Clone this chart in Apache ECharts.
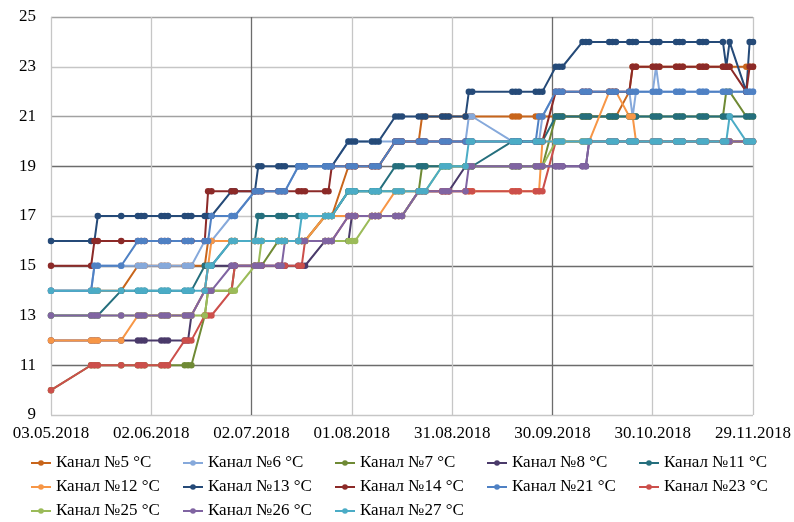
<!DOCTYPE html>
<html>
<head>
<meta charset="utf-8">
<script src="https://cdn.jsdelivr.net/npm/echarts@6/dist/echarts.min.js"></script>
<style>
  html, body { margin: 0; padding: 0; background: #fff; }
  #chart { width: 794px; height: 522px; }
</style>
</head>
<body>
<div id="chart"></div>
<script>
// Measurement days, counted from 03.05.2018, grouped by survey week
const days = [
  [0], [12,13,14], [21], [26,27,28], [33,34,35], [40,41,42], [46,47,48], [54,55],
  [61,62,63], [68,69,70], [74,75,76], [82,83,84], [89,90,91], [96,97,98],
  [103,104,105], [110,111,112], [117,118,119], [124,125,126], [138,139,140],
  [145,146,147], [151,152,153], [159,160,161], [167,168,169], [173,174,175],
  [180,181,182], [187,188,189], [194,195,196], [201,202,203], [208,209,210]
].flat();

const xTickLabels = ['03.05.2018','02.06.2018','02.07.2018','01.08.2018',
                     '31.08.2018','30.09.2018','30.10.2018','29.11.2018'];
const yTicks = [9, 11, 13, 15, 17, 19, 21, 23, 25];

// Temperature readings per channel, °C (same grouping as days)
const ch5 = [
  [14],[14,14,14],[14],[15,15,15],[15,15,15],[15,15,15],[15,16,16],[16,16],
  [16,16,16],[16,16,16],[16,16,16],[17,17,17],[19,19,19],[19,19,19],
  [20,20,20],[20,21,21],[21,21,21],[21,21,21],[21,21,21],
  [21,21,21],[21,21,21],[21,21,21],[21,21,21],[22,23,23],
  [23,23,23],[23,23,23],[23,23,23],[23,23,23],[23,23,23]].flat();
const ch6 = [
  [14],[14,15,15],[15],[15,15,15],[15,15,15],[15,15,15],[16,16,16],[17,17],
  [18,18,18],[18,18,18],[19,19,19],[19,19,19],[20,20,20],[20,20,20],
  [20,20,20],[20,20,20],[20,20,20],[20,21,21],[20,20,20],
  [20,20,21],[22,22,22],[22,22,22],[22,22,22],[22,21,22],
  [22,23,22],[22,22,22],[22,22,22],[22,22,22],[22,22,22]].flat();
const ch7 = [
  [10],[11,11,11],[11],[11,11,11],[11,11,11],[11,11,11],[13,14,14],[14,15],
  [15,15,15],[16,16,16],[16,16,16],[17,17,17],[18,18,18],[18,18,18],
  [18,18,18],[18,19,19],[19,19,19],[19,19,19],[19,19,19],
  [19,19,19],[21,21,21],[21,21,21],[21,21,21],[21,21,21],
  [21,21,21],[21,21,21],[21,21,21],[21,22,22],[21,21,21]].flat();
const ch8 = [
  [12],[12,12,12],[12],[12,12,12],[12,12,12],[12,12,13],[14,15,15],[15,15],
  [15,15,15],[15,15,15],[15,15,15],[16,16,16],[16,17,17],[17,17,17],
  [17,17,17],[18,18,18],[18,18,18],[19,19,19],[19,19,19],
  [19,19,19],[19,19,19],[19,19,20],[20,20,20],[20,20,20],
  [20,20,20],[20,20,20],[20,20,20],[20,20,20],[20,20,20]].flat();
const ch11 = [
  [13],[13,13,13],[14],[14,14,14],[14,14,14],[14,14,14],[15,15,15],[16,16],
  [16,17,17],[17,17,17],[17,17,17],[17,17,17],[18,18,18],[18,18,18],
  [19,19,19],[19,19,19],[19,19,19],[19,19,19],[20,20,20],
  [20,20,20],[21,21,21],[21,21,21],[21,21,21],[21,21,21],
  [21,21,21],[21,21,21],[21,21,21],[21,21,21],[21,21,21]].flat();
const ch12 = [
  [12],[12,12,12],[12],[13,13,13],[13,13,13],[13,13,13],[14,15,16],[16,16],
  [16,16,16],[16,16,16],[16,16,16],[17,17,17],[17,17,17],[17,17,17],
  [18,18,18],[18,18,18],[18,18,18],[18,18,18],[18,18,18],
  [18,18,20],[20,20,20],[20,20,20],[22,22,22],[21,21,20],
  [20,20,20],[20,20,20],[20,20,20],[20,20,20],[20,20,20]].flat();
const ch13 = [
  [16],[16,16,17],[17],[17,17,17],[17,17,17],[17,17,17],[17,17,17],[18,18],
  [18,19,19],[19,19,19],[19,19,19],[19,19,19],[20,20,20],[20,20,20],
  [21,21,21],[21,21,21],[21,21,21],[21,22,22],[22,22,22],
  [22,22,22],[23,23,23],[24,24,24],[24,24,24],[24,24,24],
  [24,24,24],[24,24,24],[24,24,24],[24,23,24],[22,24,24]].flat();
const ch14 = [
  [15],[15,16,16],[16],[16,16,16],[16,16,16],[16,16,16],[16,18,18],[18,18],
  [18,18,18],[18,18,18],[18,18,18],[18,18,19],[19,19,19],[19,19,19],
  [20,20,20],[20,20,20],[20,20,20],[20,20,20],[20,20,20],
  [20,20,20],[22,22,22],[22,22,22],[22,22,22],[22,23,23],
  [23,23,23],[23,23,23],[23,23,23],[23,23,23],[22,23,23]].flat();
const ch21 = [
  [14],[14,15,15],[15],[16,16,16],[16,16,16],[16,16,16],[16,16,17],[17,17],
  [18,18,18],[18,18,18],[19,19,19],[19,19,19],[19,19,19],[19,19,19],
  [20,20,20],[20,20,20],[20,20,20],[20,20,20],[20,20,20],
  [20,21,21],[22,22,22],[22,22,22],[22,22,22],[22,22,22],
  [22,22,22],[22,22,22],[22,22,22],[22,22,22],[22,22,22]].flat();
const ch23 = [
  [10],[11,11,11],[11],[11,11,11],[11,11,11],[12,12,12],[13,13,13],[14,15],
  [15,15,15],[15,15,15],[15,15,16],[16,16,16],[17,17,17],[17,17,17],
  [17,17,17],[18,18,18],[18,18,18],[18,18,18],[18,18,18],
  [18,18,18],[20,20,20],[20,20,20],[20,20,20],[20,20,20],
  [20,20,20],[20,20,20],[20,20,20],[20,20,20],[20,20,20]].flat();
const ch25 = [
  [13],[13,13,13],[13],[13,13,13],[13,13,13],[13,13,13],[13,14,14],[14,14],
  [15,15,16],[16,16,16],[16,16,16],[16,16,16],[16,16,16],[17,17,17],
  [17,17,17],[18,18,18],[19,19,19],[19,19,19],[19,19,19],
  [19,19,19],[20,20,20],[20,20,20],[20,20,20],[20,20,20],
  [20,20,20],[20,20,20],[20,20,20],[20,20,20],[20,20,20]].flat();
const ch26 = [
  [13],[13,13,13],[13],[13,13,13],[13,13,13],[13,13,13],[14,14,14],[15,15],
  [15,15,15],[15,15,16],[16,16,16],[16,16,16],[17,17,17],[17,17,17],
  [17,17,17],[18,18,18],[18,18,18],[18,19,19],[19,19,19],
  [19,19,19],[19,19,19],[19,19,20],[20,20,20],[20,20,20],
  [20,20,20],[20,20,20],[20,20,20],[20,20,20],[20,20,20]].flat();
const ch27 = [
  [14],[14,14,14],[14],[14,14,14],[14,14,14],[14,14,14],[14,15,15],[16,16],
  [16,16,16],[16,16,16],[16,17,17],[17,17,17],[18,18,18],[18,18,18],
  [18,18,18],[18,18,18],[19,19,19],[19,20,20],[20,20,20],
  [20,20,20],[20,20,20],[20,20,20],[20,20,20],[20,20,20],
  [20,20,20],[20,20,20],[20,20,20],[20,20,21],[20,20,20]].flat();

const channels = [
  { name: 'Канал №5 °C',  values: ch5,  color: '#c8651b' },
  { name: 'Канал №6 °C',  values: ch6,  color: '#86a9db' },
  { name: 'Канал №7 °C',  values: ch7,  color: '#6f8a35' },
  { name: 'Канал №8 °C',  values: ch8,  color: '#4a3a6a' },
  { name: 'Канал №11 °C', values: ch11, color: '#256f7d' },
  { name: 'Канал №12 °C', values: ch12, color: '#f79646' },
  { name: 'Канал №13 °C', values: ch13, color: '#254a78' },
  { name: 'Канал №14 °C', values: ch14, color: '#8c2a28' },
  { name: 'Канал №21 °C', values: ch21, color: '#4f81c4' },
  { name: 'Канал №23 °C', values: ch23, color: '#cc4f4b' },
  { name: 'Канал №25 °C', values: ch25, color: '#9bbb59' },
  { name: 'Канал №26 °C', values: ch26, color: '#8064a2' },
  { name: 'Канал №27 °C', values: ch27, color: '#4bacc6' }
];

const FONT = "'Liberation Serif', 'Times New Roman', serif";
const LIGHT = '#c6c6c6', MID = '#a2a2a2', DARK = '#6c6c6c';

const chart = echarts.init(document.getElementById('chart'), null, { renderer: 'canvas' });
chart.setOption({
  animation: false,
  backgroundColor: '#ffffff',
  textStyle: { fontFamily: FONT },
  grid: { left: 51, right: 41, top: 17, bottom: 107, containLabel: false },
  xAxis: {
    type: 'value',
    min: 0, max: 210, interval: 30,
    axisLine: { show: false },
    axisTick: { show: false },
    axisLabel: {
      margin: 10, color: '#000', fontSize: 17, fontFamily: FONT,
      showMinLabel: true, showMaxLabel: true,
      formatter: v => xTickLabels[Math.round(v / 30)] || ''
    },
    splitLine: {
      show: true,
      lineStyle: { width: 1.3, color: [LIGHT, LIGHT, DARK, LIGHT, LIGHT, DARK, LIGHT, LIGHT] }
    }
  },
  yAxis: {
    type: 'value',
    min: yTicks[0], max: yTicks[yTicks.length - 1], interval: 2,
    axisLine: { show: false },
    axisTick: { show: false },
    axisLabel: { margin: 15, color: '#000', fontSize: 17, fontFamily: FONT },
    splitLine: {
      show: true,
      lineStyle: { width: 1.3, color: [LIGHT, DARK, LIGHT, DARK, LIGHT, DARK, MID, LIGHT, MID] }
    }
  },
  legend: {
    left: 25, top: 449, width: 770,
    itemWidth: 20, itemHeight: 7, itemGap: 6,
    textStyle: { color: '#000', fontSize: 17, fontFamily: FONT, width: 120, lineHeight: 18 },
    data: channels.map(c => c.name)
  },
  series: channels.map(c => ({
    name: c.name,
    type: 'line',
    data: days.map((d, i) => [d, c.values[i]]),
    color: c.color,
    symbol: 'circle',
    symbolSize: 6.5,
    showAllSymbol: true,
    lineStyle: { width: 2, color: c.color },
    itemStyle: { color: c.color },
    emphasis: { disabled: true }
  }))
});
</script>
</body>
</html>
